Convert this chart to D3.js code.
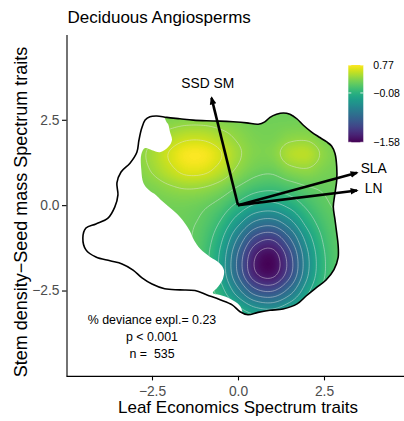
<!DOCTYPE html>
<html>
<head>
<meta charset="utf-8">
<script src="https://cdn.jsdelivr.net/npm/d3@7"></script>
<style>
  body { margin: 0; background: #fff; }
  svg { display: block; }
  text { font-family: "Liberation Sans", Arial, Helvetica, sans-serif; }
</style>
</head>
<body>
<svg id="chart" width="404" height="421"></svg>
<script>
// ---- data -------------------------------------------------------------
// fitted surface on a regular grid (columns = LES score, rows = SSD-SM score)
const gridX = [-3, -2.5, -2, -1.5, -1, -0.5, 0, 0.5, 1, 1.5, 2, 2.5, 3, 3.5];
const gridY = [3, 2.5, 2, 1.5, 1, 0.5, 0, -0.5, -1, -1.5, -2, -2.5, -3, -3.5];
const surface = [
  [0.25, 0.26, 0.26, 0.26, 0.26, 0.26, 0.26, 0.25, 0.25, 0.25, 0.25, 0.25, 0.25, 0.25],
  [0.26, 0.29, 0.32, 0.34, 0.34, 0.32, 0.29, 0.26, 0.26, 0.26, 0.26, 0.25, 0.25, 0.25],
  [0.30, 0.37, 0.47, 0.55, 0.55, 0.47, 0.37, 0.30, 0.29, 0.35, 0.36, 0.29, 0.26, 0.25],
  [0.33, 0.45, 0.61, 0.74, 0.74, 0.61, 0.43, 0.32, 0.33, 0.49, 0.52, 0.36, 0.27, 0.25],
  [0.31, 0.41, 0.54, 0.65, 0.64, 0.52, 0.36, 0.25, 0.23, 0.33, 0.37, 0.30, 0.26, 0.25],
  [0.28, 0.31, 0.37, 0.41, 0.39, 0.31, 0.18, 0.07, 0.04, 0.10, 0.18, 0.22, 0.24, 0.25],
  [0.26, 0.26, 0.27, 0.27, 0.23, 0.13, -0.05, -0.22, -0.26, -0.14, 0.04, 0.17, 0.23, 0.25],
  [0.25, 0.25, 0.25, 0.23, 0.16, -0.02, -0.33, -0.63, -0.69, -0.47, -0.13, 0.10, 0.21, 0.24],
  [0.25, 0.25, 0.24, 0.22, 0.11, -0.16, -0.63, -1.08, -1.18, -0.83, -0.33, 0.03, 0.19, 0.24],
  [0.25, 0.25, 0.24, 0.21, 0.08, -0.25, -0.83, -1.39, -1.51, -1.08, -0.46, -0.02, 0.18, 0.24],
  [0.25, 0.25, 0.24, 0.21, 0.09, -0.25, -0.82, -1.37, -1.48, -1.07, -0.45, -0.02, 0.18, 0.24],
  [0.25, 0.25, 0.25, 0.22, 0.13, -0.12, -0.54, -0.94, -1.02, -0.72, -0.27, 0.05, 0.20, 0.24],
  [0.25, 0.25, 0.25, 0.23, 0.18, 0.05, -0.17, -0.39, -0.44, -0.27, -0.03, 0.14, 0.22, 0.25],
  [0.25, 0.25, 0.25, 0.24, 0.22, 0.17, 0.08, 0.00, -0.02, 0.04, 0.14, 0.21, 0.24, 0.25]
];

// outer boundary of the species cloud
const hullOutline = [
  [-2.80, 2.25], [-2.70, 2.49], [-2.56, 2.59], [-2.36, 2.61], [-2.07, 2.57], [-1.69, 2.53],
  [-1.30, 2.49], [-0.92, 2.47], [-0.52, 2.46], [-0.14, 2.44], [0.25, 2.41], [0.59, 2.37],
  [0.78, 2.44], [0.93, 2.57], [1.12, 2.66], [1.32, 2.70], [1.51, 2.66], [1.71, 2.53],
  [1.90, 2.34], [2.14, 2.14], [2.38, 1.98], [2.58, 1.85], [2.72, 1.73], [2.82, 1.51],
  [2.87, 1.12], [2.87, 0.73], [2.82, 0.35], [2.77, -0.05], [2.82, -0.43], [2.87, -0.82],
  [2.91, -1.16], [2.91, -1.54], [2.79, -1.89], [2.56, -2.19], [2.27, -2.42], [1.98, -2.66],
  [1.72, -2.89], [1.31, -3.04], [0.93, -3.08], [0.58, -3.14], [0.29, -3.21], [0.06, -3.12],
  [-0.17, -2.92], [-0.52, -2.77], [-0.90, -2.63], [-1.25, -2.50], [-1.69, -2.48], [-2.13, -2.45],
  [-2.50, -2.31], [-2.79, -2.13], [-3.05, -1.90], [-3.37, -1.72], [-3.72, -1.63], [-4.13, -1.52],
  [-4.42, -1.31], [-4.51, -0.96], [-4.42, -0.67], [-4.13, -0.55], [-3.78, -0.38], [-3.58, -0.05],
  [-3.49, 0.30], [-3.52, 0.65], [-3.40, 0.97], [-3.14, 1.23], [-2.94, 1.55], [-2.88, 1.90]
];

// region where the fitted surface is shown (too-far-from-data cells dropped)
const fitRegion = [
  [-2.27, 3.36], [-2.09, 2.46], [-2.03, 2.37], [-1.98, 2.16], [-1.92, 1.90], [-2.03, 1.70],
  [-2.27, 1.55], [-2.50, 1.61], [-2.70, 1.67], [-2.81, 1.49], [-2.81, 1.03], [-2.75, 0.65],
  [-2.59, 0.44], [-2.38, 0.29], [-2.24, 0.15], [-2.03, -0.03], [-1.80, -0.23], [-1.57, -0.49],
  [-1.40, -0.76], [-1.28, -1.02], [-1.10, -1.28], [-0.81, -1.52], [-0.55, -1.69], [-0.41, -1.90],
  [-0.44, -2.16], [-0.58, -2.39], [-0.73, -2.57], [-0.52, -2.63], [-0.23, -2.74], [0.06, -2.95],
  [0.35, -3.65], [4.13, -3.65], [4.13, 3.36]
];

// trait loadings
const traitNames = ["SSD SM", "SLA", "LN"];
const traitX = [-0.77, 3.46, 3.46];
const traitY = [3.14, 0.95, 0.43];

// model summary
const devianceExplained = 0.23;
const pValueText = "p < 0.001";
const nSpecies = 535;

const xTicks = [-2.5, 0, 2.5];
const yTicks = [-2.5, 0, 2.5];
const legendBreaks = [0.77, -0.08, -1.58];
const surfaceRange = [-1.58, 0.77];
const contourLevels = d3.range(-1.4, 0.61, 0.2).map(v => +v.toFixed(2));

// ---- layout -----------------------------------------------------------
const svg = d3.select("#chart");
const x = d3.scaleLinear().domain([-5, 5]).range([66, 410]);
const y = d3.scaleLinear().domain([-5, 5]).range([375.9, 34.4]);
const color = d3.scaleSequential(d3.interpolateViridis).domain(surfaceRange).clamp(true);

// Catmull-Rom bicubic lookup into the surface grid
function cubic(p0, p1, p2, p3, t) {
  return p1 + 0.5 * t * (p2 - p0 + t * (2 * p0 - 5 * p1 + 4 * p2 - p3 + t * (3 * (p1 - p2) + p3 - p0)));
}
const nr = gridY.length, nc = gridX.length;
const dxg = gridX[1] - gridX[0], dyg = gridY[0] - gridY[1];
function at(r, c) {
  return surface[Math.max(0, Math.min(nr - 1, r))][Math.max(0, Math.min(nc - 1, c))];
}
function sample(X, Y) {
  const gx = (X - gridX[0]) / dxg, gy = (gridY[0] - Y) / dyg;
  const ix = Math.floor(gx), iy = Math.floor(gy);
  const tx = gx - ix, ty = gy - iy;
  const rows = [-1, 0, 1, 2].map(k =>
    cubic(at(iy + k, ix - 1), at(iy + k, ix), at(iy + k, ix + 1), at(iy + k, ix + 2), tx));
  return cubic(rows[0], rows[1], rows[2], rows[3], ty);
}

// clip paths
const defs = svg.append("defs");
const smooth = d3.line().x(d => x(d[0])).y(d => y(d[1])).curve(d3.curveCatmullRomClosed.alpha(0.5));
defs.append("clipPath").attr("id", "clip-hull").append("path").attr("d", smooth(hullOutline));
defs.append("clipPath").attr("id", "clip-fit").append("path").attr("d", smooth(fitRegion));

// raster of the surface
const px0 = Math.floor(x(gridX[0])), px1 = Math.ceil(x(gridX[nc - 1]));
const py0 = Math.floor(y(gridY[0])), py1 = Math.ceil(y(gridY[nr - 1]));
const cw = px1 - px0, ch = py1 - py0;
const canvas = document.createElement("canvas");
canvas.width = cw; canvas.height = ch;
const ctx = canvas.getContext("2d");
const img = ctx.createImageData(cw, ch);
for (let j = 0; j < ch; j++) {
  for (let i = 0; i < cw; i++) {
    const v = sample(x.invert(px0 + i + 0.5), y.invert(py0 + j + 0.5));
    const c = d3.rgb(color(v));
    const k = 4 * (j * cw + i);
    img.data[k] = c.r; img.data[k + 1] = c.g; img.data[k + 2] = c.b; img.data[k + 3] = 255;
  }
}
ctx.putImageData(img, 0, 0);

const surfG = svg.append("g").attr("clip-path", "url(#clip-hull)")
  .append("g").attr("clip-path", "url(#clip-fit)");
surfG.append("image")
  .attr("x", px0).attr("y", py0).attr("width", cw).attr("height", ch)
  .attr("preserveAspectRatio", "none")
  .attr("href", canvas.toDataURL());

// contour lines from a fine resampling of the surface
const step = 0.05;
const fx = d3.range(gridX[0], gridX[nc - 1] + 1e-9, step);
const fy = d3.range(gridY[0], gridY[nr - 1] - 1e-9, -step);
const fine = [];
fy.forEach(Y => fx.forEach(X => fine.push(sample(X, Y))));
const contours = d3.contours().size([fx.length, fy.length]).thresholds(contourLevels)(fine);
const proj = d3.geoTransform({
  point(cx, cy) {
    this.stream.point(x(gridX[0] + (cx - 0.5) * step), y(gridY[0] - (cy - 0.5) * step));
  }
});
surfG.append("g").selectAll("path").data(contours).join("path")
  .attr("d", d3.geoPath(proj))
  .attr("fill", "none")
  .attr("stroke", "#e6e6e6")
  .attr("stroke-opacity", 0.5)
  .attr("stroke-width", 0.9);

// hull outline
svg.append("path").attr("d", smooth(hullOutline))
  .attr("fill", "none").attr("stroke", "#000").attr("stroke-width", 1.6);

// axes
const xAxis = svg.append("g").attr("transform", `translate(0,${y.range()[0]})`)
  .call(d3.axisBottom(x).tickValues(xTicks).tickFormat(d3.format(".1f"))
    .tickSize(4.5).tickSizeOuter(0).tickPadding(5.5));
const yAxis = svg.append("g").attr("transform", `translate(${x.range()[0] + 0.5},0)`)
  .call(d3.axisLeft(y).tickValues(yTicks).tickFormat(d3.format(".1f"))
    .tickSize(4.5).tickSizeOuter(0).tickPadding(2.5));
[xAxis, yAxis].forEach(a => {
  a.select(".domain").attr("stroke", "#000").attr("stroke-width", 1.1);
  a.selectAll(".tick line").attr("stroke", "#000").attr("stroke-width", 1.1);
  a.selectAll(".tick text").attr("fill", "#4d4d4d").style("font-size", "13.8px")
    .style("font-family", '"Liberation Sans", Arial, sans-serif');
});

// loading arrows
defs.append("marker").attr("id", "head")
  .attr("viewBox", "0 0 10 10").attr("refX", 8).attr("refY", 5)
  .attr("markerWidth", 8).attr("markerHeight", 8)
  .attr("markerUnits", "userSpaceOnUse").attr("orient", "auto")
  .append("path").attr("d", "M0,0.8L10,5L0,9.2Z").attr("fill", "#000");
const traits = traitNames.map((name, i) => ({ name, tx: traitX[i], ty: traitY[i] }));
svg.append("g").selectAll("line").data(traits).join("line")
  .attr("x1", x(0)).attr("y1", y(0))
  .attr("x2", d => x(d.tx)).attr("y2", d => y(d.ty))
  .attr("stroke", "#000").attr("stroke-width", 2.6)
  .attr("marker-end", "url(#head)");
const labelScale = 1.14;
svg.append("g").selectAll("text").data(traits).join("text")
  .attr("x", d => x(d.tx * labelScale)).attr("y", d => y(d.ty * labelScale))
  .attr("dy", "0.36em").attr("text-anchor", "middle")
  .style("font-size", "13.8px").text(d => d.name);

// model summary text
const summary = [
  `% deviance expl.= ${devianceExplained}`,
  pValueText,
  `n =  ${nSpecies}`
];
const summaryY = [-3.35, -3.85, -4.35];
svg.append("g").selectAll("text").data(summary).join("text")
  .attr("x", x(-2.5)).attr("y", (d, i) => y(summaryY[i]))
  .attr("dy", "0.36em").attr("text-anchor", "middle")
  .style("font-size", "12.4px").style("white-space", "pre").text(d => d);

// titles
svg.append("text").attr("x", 67.5).attr("y", 22.7)
  .style("font-size", "17px").text("Deciduous Angiosperms");
svg.append("text").attr("x", 238).attr("y", 413.3).attr("text-anchor", "middle")
  .style("font-size", "17px").text("Leaf Economics Spectrum traits");
svg.append("text").attr("transform", "translate(27,212) rotate(-90)")
  .attr("text-anchor", "middle").style("font-size", "18px")
  .text("Stem density\u2212Seed mass Spectrum traits");

// colour bar
const barX = 348.3, barW = 15;
const bar = d3.scaleLinear().domain(surfaceRange).range([142.3, 65]);
const grad = defs.append("linearGradient").attr("id", "viridis-bar")
  .attr("x1", 0).attr("y1", 1).attr("x2", 0).attr("y2", 0);
d3.range(0, 1.0001, 0.05).forEach(t => {
  grad.append("stop").attr("offset", t)
    .attr("stop-color", color(surfaceRange[0] + t * (surfaceRange[1] - surfaceRange[0])));
});
svg.append("rect").attr("x", barX).attr("y", bar(surfaceRange[1]))
  .attr("width", barW).attr("height", bar(surfaceRange[0]) - bar(surfaceRange[1]))
  .attr("fill", "url(#viridis-bar)");
const tickG = svg.append("g");
legendBreaks.forEach(b => {
  tickG.append("line").attr("x1", barX).attr("x2", barX + 3)
    .attr("y1", bar(b)).attr("y2", bar(b)).attr("stroke", "#fff").attr("stroke-width", 0.8);
  tickG.append("line").attr("x1", barX + barW - 3).attr("x2", barX + barW)
    .attr("y1", bar(b)).attr("y2", bar(b)).attr("stroke", "#fff").attr("stroke-width", 0.8);
});
svg.append("g").selectAll("text").data(legendBreaks).join("text")
  .attr("x", barX + barW + 10).attr("y", d => bar(d)).attr("dy", "0.36em")
  .style("font-size", "10.5px").text(d => d3.format(".2f")(d));
</script>
</body>
</html>
